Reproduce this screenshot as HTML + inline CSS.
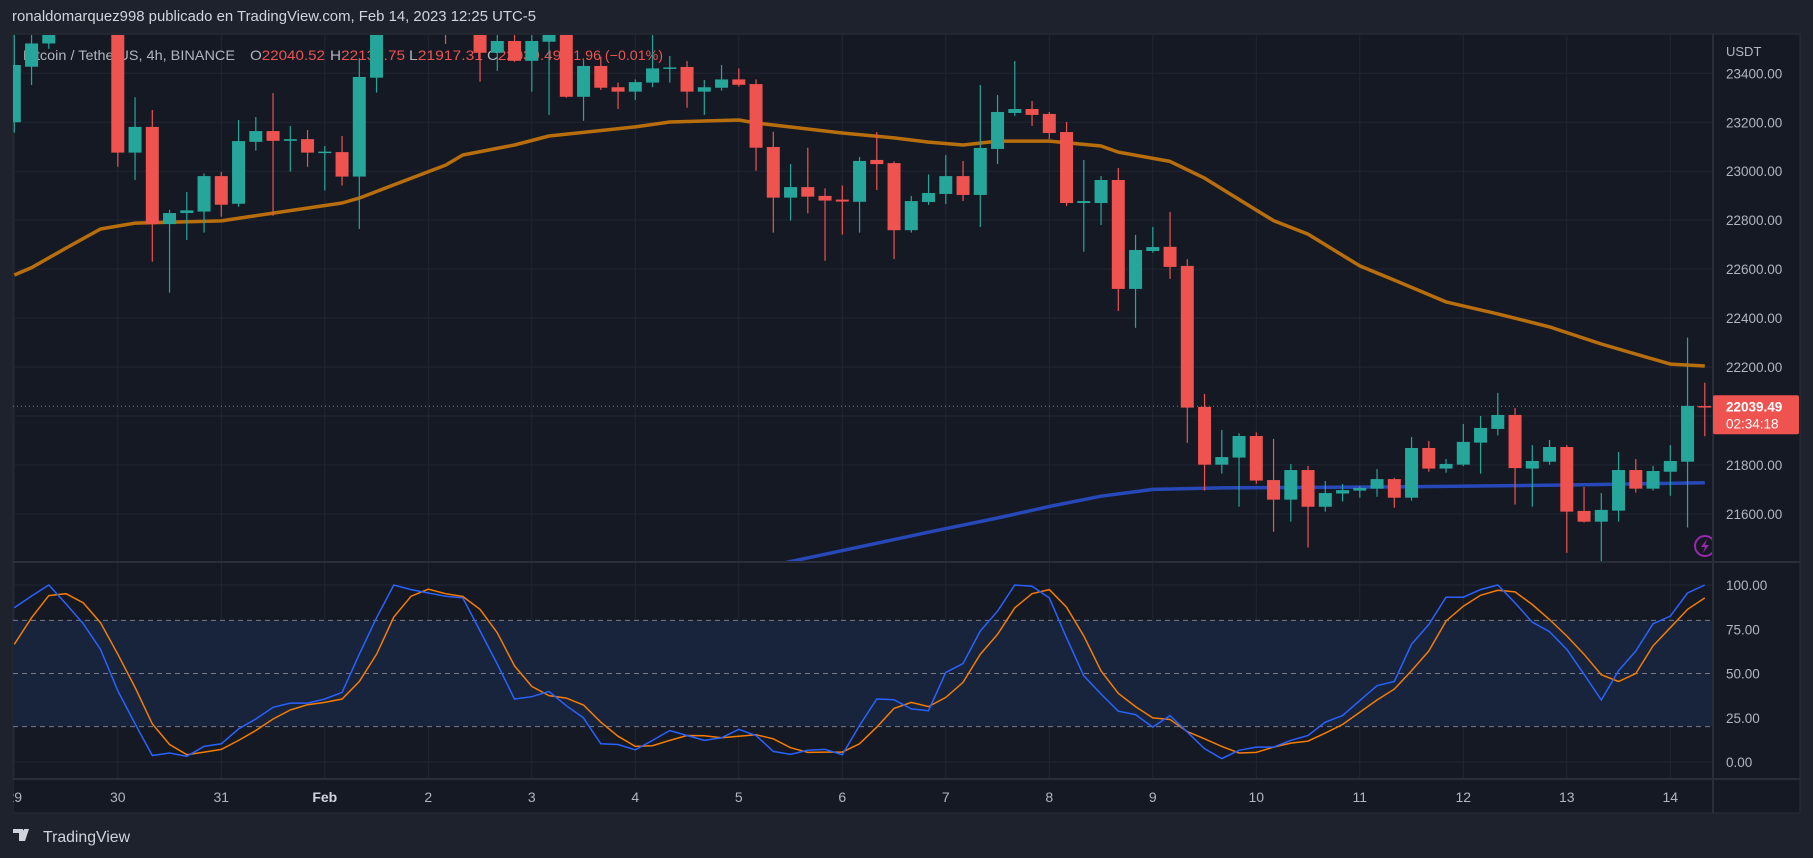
<!DOCTYPE html>
<html><head><meta charset="utf-8"><style>
html,body{margin:0;padding:0;background:#1e222d;width:1813px;height:858px;overflow:hidden}
svg{display:block;font-family:"Liberation Sans",sans-serif}
</style></head><body>
<svg id="chart" width="1813" height="858" viewBox="0 0 1813 858" xmlns="http://www.w3.org/2000/svg">
<rect width="1813" height="858" fill="#1e222d"/>
<text x="12" y="21" fill="#d1d4dc" font-size="15" textLength="524" lengthAdjust="spacingAndGlyphs">ronaldomarquez998 publicado en TradingView.com, Feb 14, 2023 12:25 UTC-5</text>
<rect x="13" y="34" width="1787" height="779" fill="#151924" stroke="#2a2e39"/>
<g id="grid"></g>
<rect x="13" y="620.4" width="1700" height="106.2" fill="#17243c"/>
<g id="osclines"></g>
<g id="legend">
<text x="23" y="60" font-size="14" fill="#b2b5be" textLength="212" lengthAdjust="spacingAndGlyphs">Bitcoin / TetherUS, 4h, BINANCE</text>
<text x="250" y="60" font-size="14" textLength="75" lengthAdjust="spacingAndGlyphs"><tspan fill="#b2b5be">O</tspan><tspan fill="#ef5350">22040.52</tspan></text>
<text x="330" y="60" font-size="14" textLength="75" lengthAdjust="spacingAndGlyphs"><tspan fill="#b2b5be">H</tspan><tspan fill="#ef5350">22135.75</tspan></text>
<text x="409" y="60" font-size="14" textLength="74" lengthAdjust="spacingAndGlyphs"><tspan fill="#b2b5be">L</tspan><tspan fill="#ef5350">21917.31</tspan></text>
<text x="487" y="60" font-size="14" textLength="74" lengthAdjust="spacingAndGlyphs"><tspan fill="#b2b5be">C</tspan><tspan fill="#ef5350">22039.49</tspan></text>
<text x="565" y="60" font-size="14" fill="#ef5350" textLength="98" lengthAdjust="spacingAndGlyphs">−1.96 (−0.01%)</text>
</g>
<defs><clipPath id="mainclip"><rect x="13" y="35" width="1700" height="527"/></clipPath>
<clipPath id="oscclip"><rect x="13" y="563" width="1700" height="216"/></clipPath></defs>
<g id="main" clip-path="url(#mainclip)"></g>
<g id="osc" clip-path="url(#oscclip)"></g>
<g id="axes"></g>
<g>
<path d="M13 831h10v12h-4v-8h-6z M24 831h5l-4 12h-4z" fill="#d1d4dc" transform="translate(0,-2)"/>
<circle cx="22" cy="832" r="2" fill="#d1d4dc"/>
<text x="43" y="842" font-size="16" fill="#d1d4dc" textLength="87" lengthAdjust="spacingAndGlyphs">TradingView</text>
</g>
</svg>
<script>
const opens=[23200,23427,23522,23650,23700,23750,23700,23076,23181,22784,22829,22835,22980,22867,23120,23164,23124,23131,23075,23078,22978,23382,23600,23650,23700,23680,23640,23620,23484,23532,23451,23529,23650,23304,23430,23343,23325,23362,23420,23426,23325,23341,23375,23356,23099,22892,22935,22899,22884,22875,23046,23033,22759,22874,22907,22980,22903,23091,23238,23254,23234,23160,22870,22870,22964,22519,22674,22691,22613,22037,21801,21830,21918,21738,21658,21779,21629,21683,21695,21703,21742,21666,21869,21785,21801,21891,21947,22004,21785,21813,21873,21612,21568,21613,21779,21703,21772,21813,22040.52];
const highs=[23600,23600,23700,23800,23800,23800,23800,23302,23250,22842,22915,22991,22997,23209,23221,23319,23185,23168,23103,23144,23462,23700,23700,23750,23750,23720,23700,23700,23600,23600,23600,23650,23750,23454,23468,23362,23375,23560,23471,23450,23373,23434,23420,23375,23161,23029,23096,22930,22942,23058,23160,23040,22899,22987,23066,23042,23352,23311,23450,23287,23242,23201,23046,22980,23013,22740,22772,22833,22640,22090,21943,21929,21933,21906,21804,21796,21734,21722,21714,21783,21747,21914,21898,21824,21967,22000,22094,22032,21881,21902,21881,21710,21685,21853,21824,21796,21881,22320,22135.75];
const lows=[23157,23352,23500,23560,23620,23620,23018,22964,22630,22504,22719,22749,22814,22855,23084,22818,22998,23018,22921,22941,22764,23321,23560,23580,23600,23520,23580,23366,23410,23447,23325,23230,23300,23206,23332,23254,23291,23343,23362,23259,23230,23329,23345,23002,22749,22798,22828,22634,22741,22749,22923,22641,22749,22862,22866,22878,22772,23029,23226,23185,23131,22858,22671,22780,22429,22360,22667,22560,21890,21695,21764,21629,21723,21527,21568,21462,21609,21650,21666,21670,21625,21654,21772,21768,21795,21764,21920,21638,21629,21801,21441,21564,21400,21568,21687,21695,21674,21544,21917.31];
const closes=[23434,23522,23650,23700,23750,23700,23076,23181,22784,22829,22840,22980,22863,23123,23164,23124,23131,23076,23080,22978,23385,23600,23650,23700,23680,23640,23620,23484,23532,23451,23532,23565,23304,23430,23341,23325,23364,23420,23424,23325,23343,23375,23353,23096,22892,22935,22896,22880,22876,23042,23029,22759,22878,22911,22980,22903,23095,23242,23254,23230,23156,22870,22878,22964,22519,22678,22690,22609,22034,21801,21832,21918,21736,21658,21779,21629,21685,21697,21706,21742,21666,21869,21785,21804,21894,21951,22004,21787,21816,21873,21609,21568,21616,21779,21703,21775,21816,22041,22039.49];
const emaIdx=[0,1,3,5,7,12,15,19,20,25,26,29,31,36,38,42,43,48,51,53,55,57,60,63,64,67,69,72,73,75,78,80,83,86,89,92,96,98];
const emaVals=[22576,22606,22686,22764,22788,22797,22829,22870,22890,23025,23066,23107,23144,23181,23201,23209,23197,23156,23136,23119,23107,23123,23123,23103,23078,23040,22972,22841,22798,22743,22613,22555,22466,22417,22364,22294,22212,22204];
const smaIdx=[44,48,53,57,60,63,66,70,80,90,98];
const smaVals=[21390,21450,21525,21583,21630,21672,21700,21706,21710,21718,21727];
const stochK=[87.1,93.8,100,89.3,78.1,63.7,40.3,21.6,3.7,5.1,3.2,8.8,10.3,18.7,24.3,30.9,33.3,33.3,35.6,39.3,60.9,81.5,100,97.4,95.5,93.7,92.7,74,55.3,35.6,36.9,39.9,31.8,24.9,10.3,9.9,6.9,12.2,17.8,15,12.2,13.7,18.5,15,6,4.3,6.6,7.1,4.1,20.6,35.6,35.2,30,29,50.6,55.6,74,85.2,100,99.3,92.7,70.2,48.7,38.4,28.7,26.8,19.7,26.2,16.9,7.5,1.9,6.6,8.4,8.4,12.2,15,22.5,26.2,34.7,43.1,45.5,66.5,77.7,93.1,93.1,97.4,100,89.9,79,73.6,63.7,49.6,35,51.5,62.7,78.1,82.4,95.5,100];
const stochD=[66.5,81.5,94,95.1,89.9,78.7,60.9,42.1,21.5,9.9,4.1,5.6,7.1,12.2,17.8,24.3,29.4,32.4,33.7,35.6,45.5,60.9,81.9,93.7,97.6,95.1,93.5,86.2,73,54.3,42.7,37.5,36.1,32.2,22.5,14.6,8.8,9.2,12.2,15,14.8,13.7,14.6,15.4,13.1,8.1,5.4,5.6,5.6,10.3,19.7,30.3,33.7,31.3,36.5,45,60.9,72.1,87.1,95.1,97.4,87.5,71.2,51.5,38.8,31.3,24.9,24,17.2,13.1,8.8,5.1,5.4,8.4,10.7,11.8,16.3,21.2,28.1,35,41.2,51.5,62.7,79.6,88,94.2,97,96.1,89,80.5,71.2,60.9,49.3,45.5,50,65.6,75.9,86.2,92.7];
const priceTicks=[23400,23200,23000,22800,22600,22400,22200,21800,21600];
const stochTicks=[100,75,50,25,0];
const dayLabels=["29","30","31","Feb","2","3","4","5","6","7","8","9","10","11","12","13","14"];
const lastPrice=22039.49, countdown="02:34:18";

const NS="http://www.w3.org/2000/svg";
const X=i=>14.3+i*17.25;
const Y=p=>73.3+(23400-p)*48.95/200;
const YO=v=>762-v*1.77;
function mk(tag,attrs,parent){const e=document.createElementNS(NS,tag);for(const k in attrs)e.setAttribute(k,attrs[k]);parent.appendChild(e);return e;}
const grid=document.getElementById('grid'),main=document.getElementById('main'),osc=document.getElementById('osc'),axes=document.getElementById('axes'),ol=document.getElementById('osclines');

for(let p=21400;p<=23600;p+=200){const y=Y(p);if(y>35&&y<562){const l=mk('line',{x1:13,x2:1713,y1:y,y2:y,stroke:'#222633'},grid);}}
dayLabels.forEach((d,k)=>{const x=X(k*6);const l=mk('line',{x1:x,x2:x,y1:35,y2:779,stroke:'#222633'},grid);});
[100,75,25,0].forEach(v=>{const l=mk('line',{x1:13,x2:1713,y1:YO(v),y2:YO(v),stroke:'#222633'},grid);});
[80,50,20].forEach(v=>{const l=mk('line',{x1:13,x2:1713,y1:YO(v),y2:YO(v),stroke:'#787b86','stroke-dasharray':'5,4','stroke-width':1},ol);});

[[13,562,1800,562],[13,779,1800,779],[1713,34,1713,813]].forEach(a=>{const l=mk('line',{x1:a[0],y1:a[1],x2:a[2],y2:a[3],stroke:'#2a2e39','stroke-width':2},axes);});

function poly(idx,vals,yf,color,w,parent,name){const pts=idx.map((ii,k)=>X(ii).toFixed(1)+','+yf(vals[k]).toFixed(1)).join(' ');const e=mk('polyline',{points:pts,fill:'none',stroke:color,'stroke-width':w,'stroke-linejoin':'round'},parent);return e;}
poly(emaIdx,emaVals,Y,'#b86e0c',3.5,main,'ma-orange-line');
poly(smaIdx,smaVals,Y,'#2748b8',3.5,main,'ma-blue-line');

const lp=mk('line',{x1:13,x2:1713,y1:Y(lastPrice),y2:Y(lastPrice),stroke:'#ef5350','stroke-dasharray':'1,3'},main);



for(let i=0;i<opens.length;i++){
  const up=closes[i]>=opens[i];const c=up?'#26a69a':'#ef5350';const x=X(i);
  const g=mk('g',{},main);
  
  
  mk('line',{x1:x,x2:x,y1:Y(highs[i]),y2:Y(lows[i]),stroke:c,'stroke-width':1.2},g);
  const t=Y(Math.max(opens[i],closes[i])),b=Y(Math.min(opens[i],closes[i]));
  mk('rect',{x:x-6.5,y:t,width:13,height:Math.max(1.5,b-t),fill:c},g);
}
const ic=mk('g',{},main);


mk('circle',{cx:1705,cy:546,r:10,fill:'none',stroke:'#9c27b0','stroke-width':2},ic);
mk('path',{d:'M1707 539l-6 8h4l-2 6 6-8h-4z',fill:'#9c27b0'},ic);

function opoly(vals,color,name){const pts=vals.map((v,i)=>X(i).toFixed(1)+','+YO(v).toFixed(1)).join(' ');const e=mk('polyline',{points:pts,fill:'none',stroke:color,'stroke-width':1.5},osc);}
opoly(stochD,'#f57c00','stoch-d-line');
opoly(stochK,'#2962ff','stoch-k-line');

const u=mk('text',{x:1726,y:56,fill:'#b2b5be','font-size':13},axes);u.textContent='USDT';


priceTicks.forEach(p=>{const t=mk('text',{x:1726,y:Y(p)+5,fill:'#b2b5be','font-size':13.5},axes);t.textContent=p.toFixed(2);});
stochTicks.forEach(v=>{const t=mk('text',{x:1726,y:YO(v)+5,fill:'#b2b5be','font-size':13.5},axes);t.textContent=v.toFixed(2);});
const pb=mk('rect',{x:1713,y:Y(lastPrice)-11,width:86,height:39,fill:'#ef5350',rx:2},axes);


const pt=mk('text',{x:1726,y:Y(lastPrice)+5,fill:'#ffffff','font-size':13.5,'font-weight':'bold'},axes);pt.textContent=lastPrice.toFixed(2);


const ct=mk('text',{x:1726,y:Y(lastPrice)+22,fill:'#ffffff','font-size':13.5},axes);ct.textContent=countdown;


dayLabels.forEach((d,k)=>{const t=mk('text',{x:X(k*6),y:802,fill:d==='Feb'?'#d1d4dc':'#b2b5be','font-size':14,'text-anchor':'middle','font-weight':d==='Feb'?'bold':'normal'},axes);t.textContent=d;});
const cv=mk('rect',{x:0,y:780,width:13,height:33,fill:'#1e222d'},axes);


</script>
</body></html>
